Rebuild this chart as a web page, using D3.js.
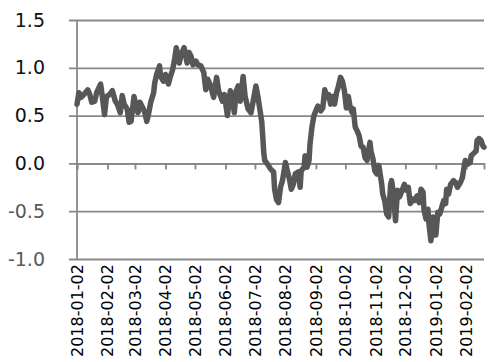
<!DOCTYPE html>
<html>
<head>
<meta charset="utf-8">
<script src="https://cdn.jsdelivr.net/npm/d3@7"></script>
<style>
	body { margin: 0; background: #fff; }
	svg { display: block; font-family: "DejaVu Sans", sans-serif; }
</style>
</head>
<body>
<svg id="chart" width="492" height="362"></svg>
<script>
// values, roughly every 2-3 days
const dates = [
	"2018-01-02","2018-01-04","2018-01-06","2018-01-09","2018-01-13","2018-01-15","2018-01-17","2018-01-20",
	"2018-01-22","2018-01-26","2018-01-27","2018-01-30","2018-02-01","2018-02-04","2018-02-07","2018-02-10",
	"2018-02-12","2018-02-15","2018-02-17","2018-02-19","2018-02-22","2018-02-24","2018-02-26","2018-03-01",
	"2018-03-03","2018-03-05","2018-03-07","2018-03-10","2018-03-12","2018-03-14","2018-03-16","2018-03-18",
	"2018-03-21","2018-03-22","2018-03-24","2018-03-27","2018-03-28","2018-03-31","2018-04-02","2018-04-05",
	"2018-04-07","2018-04-09","2018-04-11","2018-04-13","2018-04-16","2018-04-18","2018-04-21","2018-04-24",
	"2018-04-26","2018-04-28","2018-04-30","2018-05-03","2018-05-05","2018-05-08","2018-05-11","2018-05-13",
	"2018-05-15","2018-05-18","2018-05-21","2018-05-24","2018-05-26","2018-05-30","2018-06-01","2018-06-04",
	"2018-06-07","2018-06-09","2018-06-11","2018-06-13","2018-06-15","2018-06-17","2018-06-20","2018-06-22",
	"2018-06-25","2018-06-28","2018-06-30","2018-07-03","2018-07-05","2018-07-08","2018-07-09","2018-07-11",
	"2018-07-12","2018-07-15","2018-07-18","2018-07-21","2018-07-22","2018-07-24","2018-07-26","2018-07-28",
	"2018-07-30","2018-08-02","2018-08-04","2018-08-06","2018-08-08","2018-08-10","2018-08-12","2018-08-15",
	"2018-08-17","2018-08-18","2018-08-21","2018-08-22","2018-08-24","2018-08-26","2018-08-27","2018-08-29",
	"2018-08-31","2018-09-02","2018-09-04","2018-09-07","2018-09-09","2018-09-11","2018-09-13","2018-09-15",
	"2018-09-17","2018-09-19","2018-09-21","2018-09-23","2018-09-25","2018-09-27","2018-09-29","2018-10-01",
	"2018-10-03","2018-10-05","2018-10-07","2018-10-09","2018-10-10","2018-10-12","2018-10-14","2018-10-16",
	"2018-10-18","2018-10-20","2018-10-22","2018-10-24","2018-10-27","2018-10-28","2018-10-30","2018-11-01",
	"2018-11-03","2018-11-05","2018-11-08","2018-11-09","2018-11-11","2018-11-13","2018-11-15","2018-11-17",
	"2018-11-18","2018-11-20","2018-11-22","2018-11-24","2018-11-26","2018-11-28","2018-12-01","2018-12-03",
	"2018-12-05","2018-12-07","2018-12-09","2018-12-11","2018-12-14","2018-12-16","2018-12-18","2018-12-20",
	"2018-12-21","2018-12-23","2018-12-25","2018-12-26","2018-12-28","2018-12-30","2019-01-01","2019-01-02",
	"2019-01-04","2019-01-06","2019-01-08","2019-01-10","2019-01-12","2019-01-13","2019-01-15","2019-01-17",
	"2019-01-20","2019-01-22","2019-01-24","2019-01-27","2019-01-29","2019-01-31","2019-02-01","2019-02-03",
	"2019-02-06","2019-02-07","2019-02-10","2019-02-12","2019-02-13","2019-02-15","2019-02-17","2019-02-19",
	"2019-02-20"
]
const values = [
	0.62, 0.74, 0.69, 0.72, 0.77, 0.72, 0.64, 0.65,
	0.74, 0.83, 0.76, 0.51, 0.70, 0.72, 0.76, 0.65,
	0.62, 0.53, 0.71, 0.62, 0.57, 0.43, 0.44, 0.70,
	0.60, 0.53, 0.64, 0.58, 0.53, 0.44, 0.53, 0.64,
	0.74, 0.84, 0.93, 1.02, 0.91, 0.86, 0.93, 0.83,
	0.91, 0.97, 1.07, 1.21, 1.05, 1.14, 1.21, 1.05,
	1.16, 1.12, 1.03, 1.07, 1.03, 1.02, 0.95, 0.77,
	0.88, 0.81, 0.69, 0.90, 0.76, 0.65, 0.72, 0.50,
	0.76, 0.69, 0.53, 0.76, 0.81, 0.65, 0.91, 0.70,
	0.57, 0.53, 0.64, 0.81, 0.70, 0.50, 0.43, 0.11,
	0.03, -0.01, -0.06, -0.09, -0.27, -0.38, -0.41, -0.25,
	-0.18, 0.01, -0.08, -0.16, -0.27, -0.22, -0.11, -0.09,
	-0.25, -0.08, -0.04, 0.08, -0.04, 0.03, 0.20, 0.38,
	0.50, 0.55, 0.60, 0.55, 0.58, 0.77, 0.69, 0.72,
	0.62, 0.70, 0.62, 0.74, 0.81, 0.90, 0.86, 0.76,
	0.58, 0.70, 0.58, 0.53, 0.57, 0.38, 0.34, 0.29,
	0.18, 0.17, 0.06, 0.03, 0.22, 0.13, 0.05, -0.08,
	-0.11, -0.02, -0.22, -0.32, -0.39, -0.53, -0.56, -0.22,
	-0.18, -0.32, -0.60, -0.28, -0.35, -0.30, -0.22, -0.28,
	-0.25, -0.42, -0.37, -0.39, -0.34, -0.41, -0.27, -0.30,
	-0.49, -0.58, -0.48, -0.63, -0.81, -0.56, -0.65, -0.75,
	-0.51, -0.53, -0.46, -0.39, -0.42, -0.27, -0.32, -0.22,
	-0.18, -0.20, -0.25, -0.20, -0.15, -0.02, 0.03, -0.01,
	0.01, 0.08, 0.11, 0.13, 0.24, 0.26, 0.24, 0.18,
	0.17
]
const tickLabels = [
	"2018-01-02","2018-02-02","2018-03-02","2018-04-02","2018-05-02","2018-06-02","2018-07-02",
	"2018-08-02","2018-09-02","2018-10-02","2018-11-02","2018-12-02","2019-01-02","2019-02-02"
]
const yTicks = [-1.0, -0.5, 0.0, 0.5, 1.0, 1.5]
const dateRange = ["2018-01-02", "2019-02-20"]

const parse = d3.timeParse("%Y-%m-%d")
const data = dates.map((d, i) => ({date: parse(d), value: values[i]}))

const svg = d3.select("#chart")
const gridColor = "#878787"

const x = d3.scaleTime()
	.domain(dateRange.map(parse))
	.range([77, 484])

const y = d3.scaleLinear()
	.domain([-1, 1.5])
	.range([259, 20])

// horizontal gridlines + y axis labels (plain hyphen for negatives, like the original)
svg.append("g")
	.attr("transform", "translate(77,0)")
	.call(d3.axisLeft(y).tickValues(yTicks).tickSize(-(484 - 77)).tickFormat(d => d.toFixed(1)))
	.call(g => g.select(".domain").remove())
	.call(g => g.selectAll(".tick line").attr("stroke", gridColor).attr("stroke-width", 1.8).attr("x1", -8))
	.call(g => g.selectAll(".tick text")
		.attr("x", -32)
		.attr("font-size", 19)
		.attr("font-family", "DejaVu Sans")
		.attr("fill", d => d < 0 ? "#595959" : "#111"))

// vertical axis line
svg.append("line")
	.attr("x1", 77).attr("x2", 77)
	.attr("y1", y(1.5)).attr("y2", y(-1))
	.attr("stroke", gridColor).attr("stroke-width", 1.8)

// x axis sits on zero, labels go to the bottom
svg.append("g")
	.attr("transform", `translate(0,${y(0)})`)
	.call(d3.axisBottom(x).tickValues(tickLabels.map(parse)).tickSize(6).tickFormat(""))
	.call(g => g.select(".domain").attr("stroke", gridColor).attr("stroke-width", 1.8))
	.call(g => g.selectAll(".tick line").attr("stroke", gridColor).attr("stroke-width", 1.8))

svg.append("g")
	.selectAll("text")
	.data(tickLabels)
	.join("text")
		.attr("transform", d => `translate(${x(parse(d)) + 6},${357}) rotate(-90)`)
		.attr("font-size", 16)
		.attr("fill", "#000")
		.text(d => d)

const line = d3.line()
	.x(d => x(d.date))
	.y(d => y(d.value))

svg.append("path")
	.datum(data)
	.attr("fill", "none")
	.attr("stroke", "#575757")
	.attr("stroke-width", 5.5)
	.attr("stroke-linejoin", "round")
	.attr("stroke-linecap", "round")
	.attr("d", line)
</script>
</body>
</html>
